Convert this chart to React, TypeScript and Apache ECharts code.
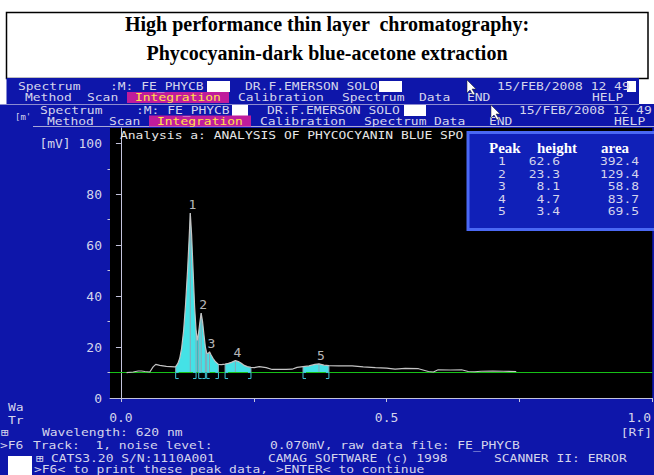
import React, { useEffect, useRef } from 'react';
import * as echarts from 'echarts';

// ---- data ----
const baseline = 10; // mV, integration baseline
const peakIds = ['1', '2', '3', '4', '5'];
const peakHeights = [62.6, 23.3, 8.1, 4.7, 3.4];
const peakAreas = [392.4, 129.4, 58.8, 83.7, 69.5];
const peakRf = [0.1305, 0.151, 0.1667, 0.2154, 0.3727];

const curveRf = [
  0.0106, 0.0231, 0.0325, 0.0387, 0.0449, 0.0543, 0.0605, 0.0655, 0.073, 0.0855,
  0.1011, 0.103, 0.107, 0.1105, 0.1142, 0.118, 0.1217, 0.1255, 0.1283, 0.1305,
  0.133, 0.1358, 0.1386, 0.1414, 0.1436, 0.1464, 0.149, 0.151, 0.1536, 0.1564,
  0.1589, 0.16, 0.1614, 0.1642, 0.1667, 0.1695, 0.1732, 0.1779, 0.1835, 0.1891,
  0.196, 0.2022, 0.2079, 0.2154, 0.221, 0.2266, 0.2322, 0.2378, 0.2447, 0.2509,
  0.2603, 0.2734, 0.2846, 0.2978, 0.3109, 0.322, 0.3315, 0.3427, 0.3539, 0.3652,
  0.3727, 0.382, 0.3914, 0.41, 0.435, 0.456, 0.4788, 0.5, 0.516, 0.535,
  0.56, 0.5787, 0.588, 0.597, 0.62, 0.641, 0.6536, 0.666, 0.678, 0.7,
  0.72, 0.744,
];
const curveMv = [
  10.0, 10.2, 10.6, 10.6, 10.4, 10.2, 12.2, 13.2, 12.8, 12.4,
  12.2, 12.3, 13.5, 15.5, 19.5, 26.5, 37.0, 50.5, 62.5, 72.6,
  64.0, 50.0, 36.0, 26.5, 22.6, 26.0, 30.5, 33.3, 30.0, 24.5,
  20.0, 19.0, 17.6, 17.5, 18.1, 17.0, 15.6, 14.2, 13.2, 13.1,
  13.3, 13.6, 14.0, 14.7, 14.3, 13.6, 12.8, 12.3, 12.0, 11.9,
  12.3, 11.9, 11.2, 11.2, 11.2, 11.3, 12.0, 12.3, 12.6, 13.2,
  13.4, 12.9, 12.7, 12.6, 12.6, 12.2, 11.9, 11.7, 11.3, 11.6,
  11.5, 10.4, 10.2, 11.1, 11.0, 11.1, 10.4, 10.3, 10.5, 10.6,
  10.5, 10.4,
];

const fillStart = [0.103, 0.1436, 0.16, 0.196, 0.3427];
const fillEnd = [0.1436, 0.16, 0.1835, 0.2447, 0.3914];
const bracketRf = [0.103, 0.1414, 0.1464, 0.1589, 0.1614, 0.1835, 0.196, 0.2447, 0.3427, 0.3914];
const bracketSide = [0, 1, 0, 1, 0, 1, 0, 1, 0, 1]; // 0 = "[", 1 = "]"

const yTicks = [0, 20, 40, 60, 80, 100];
const yMinorTicks = [10, 30, 50, 70, 90];
const xTicks = [0, 0.25, 0.5, 0.75, 1.0];
const xLabels = [0, 0.5, 1.0];

// ---- styling ----
const W = 654;
const H = 475;
const MONO = '"DejaVu Sans Mono", monospace';
const SERIF = '"Liberation Serif", "Times New Roman", serif';
const BLUE = '#0e16aa';
const TXT = '#d4d4ec';
const AX = '#c4c4dc';
const CYAN = '#44e2e6';
const X_MIN = -0.0206;

const curve = curveRf.map((r, i) => [r, curveMv[i]]);
const valueAt = (rf: number) => {
  let best = curve[0];
  for (const p of curve) if (Math.abs(p[0] - rf) < Math.abs(best[0] - rf)) best = p;
  return best[1];
};

// screen text: 11px mono stretched horizontally like the DOS font
function T(x: number, y: number, text: string, o: any = {}) {
  const align = o.align || 'left';
  const serif = !!o.font;
  return {
    type: 'text',
    x,
    y,
    scaleX: serif ? 1 : 1.18,
    z: o.z ?? 50,
    silent: true,
    style: {
      text,
      fill: o.fill || TXT,
      font: o.font || `11px ${MONO}`,
      align,
      textAlign: align,
      verticalAlign: 'middle',
      textVerticalAlign: 'middle',
    },
  };
}
function R(x: number, y: number, w: number, h: number, fill: string, z = -10, extra: any = {}) {
  return { type: 'rect', z, silent: true, shape: { x, y, width: w, height: h }, style: { fill, ...extra } };
}
function L(x1: number, y1: number, x2: number, y2: number, stroke: string, z = -5, lw = 1) {
  return { type: 'line', z, silent: true, shape: { x1, y1, x2, y2 }, style: { stroke, lineWidth: lw } };
}
function cursor(x: number, y: number) {
  const pts = [[0, 0], [0, 13], [3, 10], [6, 15], [8, 14], [5, 9], [9, 9]].map(([a, b]) => [x + a, y + b]);
  return { type: 'polygon', z: 60, silent: true, shape: { points: pts }, style: { fill: '#ffffff', stroke: '#202020', lineWidth: 0.5 } };
}

function menuRow(dx: number, y: number) {
  return [
    T(18 + dx, y, 'Spectrum'),
    T(110 + dx + (dx ? 4 : 0), y, ':M: FE_PHYCB'),
    T(245 + dx, y, 'DR.F.EMERSON SOLO'),
    T(497 + dx, y, '15/FEB/2008 12 49'),
  ];
}
function menuRow2(dx: number, y: number, hy: number) {
  return [
    R(127 + dx, hy, 102, 11, '#c01c9c', 5),
    T(25 + dx, y, 'Method'),
    T(87 + dx, y, 'Scan'),
    T(135 + dx, y, 'Integration', { fill: '#ffe24a', font: `11px ${MONO}` , stretch: true }),
    T(238 + dx, y, 'Calibration'),
    T(342 + dx, y, 'Spectrum'),
    T(419 + dx - (dx ? 7 : 0), y, 'Data'),
    T(467 + dx, y, 'END'),
    T(592 + dx, y, 'HELP'),
  ];
}

const graphics: any[] = [
  // title box
  R(6.5, 12.5, 641.5, 66, '#ffffff', -20, { stroke: '#000000', lineWidth: 1.5 }),
  T(327, 24, 'High performance thin layer  chromatography:', { align: 'center', fill: '#000', font: `bold 20px ${SERIF}` }),
  T(327, 53, 'Phycocyanin-dark blue-acetone extraction', { align: 'center', fill: '#000', font: `bold 20px ${SERIF}` }),
  // screen
  R(6.5, 78, 632.5, 26, BLUE, -10),
  R(0, 104, W, H - 104, BLUE, -10),
  R(8, 456, 24, 19, '#ffffff', -9),
  L(0, 104.5, 639, 104.5, '#8c8cd0', -5),
  L(33, 126.5, W, 126.5, '#a8a8d8', -5),
  // menu rows
  ...menuRow(0, 86.5),
  R(207, 81, 23, 11, '#ffffff', 5),
  R(379, 81, 23, 11, '#ffffff', 5),
  R(627, 81, 9, 11, '#ffffff', 5),
  cursor(467, 80),
  ...menuRow2(0, 97.5, 92),
  T(15, 117, "[m'", { font: `9px ${MONO}` }),
  ...menuRow(22, 110),
  R(232, 105, 16, 11, '#ffffff', 5),
  R(404, 105, 22, 11, '#ffffff', 5),
  cursor(491, 105),
  ...menuRow2(22, 121.5, 115.5),
  // plot header
  T(120, 135.5, 'Analysis a: ANALYSIS OF PHYCOCYANIN BLUE SPO', { fill: '#e6e6e6' }),
  // peak table
  R(468, 132.5, 190, 97, '#1020b8', 40, { stroke: '#4a68f4', lineWidth: 3 }),
  T(489, 148, 'Peak', { fill: '#ffffff', font: `bold 15px ${SERIF}`, z: 45 }),
  T(537, 148, 'height', { fill: '#ffffff', font: `bold 15px ${SERIF}`, z: 45 }),
  T(601, 148, 'area', { fill: '#ffffff', font: `bold 15px ${SERIF}`, z: 45 }),
  ...peakIds.flatMap((id, i) => {
    const y = 161.5 + i * 12.5;
    return [
      T(502, y, id, { align: 'center', z: 45 }),
      T(560, y, peakHeights[i].toFixed(1), { align: 'right', z: 45 }),
      T(639, y, peakAreas[i].toFixed(1), { align: 'right', z: 45 }),
    ];
  }),
  // bottom lines
  T(8, 407, 'Wa'),
  T(8, 420, 'Tr'),
  T(652, 432, '[Rf]', { align: 'right' }),
  T(1, 432, '\u229E'),
  T(42, 432, 'Wavelength: 620 nm'),
  T(0, 445, '>F6'),
  T(33, 445, 'Track:  1, noise level:'),
  T(270, 445, '0.070mV, raw data file: FE_PHYCB'),
  T(36, 458, '\u229E'),
  T(51, 458, 'CATS3.20 S/N:1110A001'),
  T(268, 458, 'CAMAG SOFTWARE (c) 1998'),
  T(494, 458, 'SCANNER II: ERROR'),
  T(34, 469, '>F6< to print these peak data, >ENTER< to continue'),
];
// make the yellow menu item use the stretched mono too
graphics.forEach((g) => {
  if (g.type === 'text' && g.style.fill === '#ffe24a') g.scaleX = 1.18;
});

const fillSeries = fillStart.map((s, i) => ({
  type: 'line',
  name: 'peak' + peakIds[i],
  data: curve.filter((p) => p[0] >= s - 1e-9 && p[0] <= fillEnd[i] + 1e-9),
  showSymbol: false,
  silent: true,
  z: 2,
  lineStyle: { width: 0 },
  areaStyle: { color: CYAN, opacity: 1, origin: baseline },
}));

const vlineData = [
  ...bracketRf.map((r) => [r, valueAt(r)]),
  ...peakRf.map((r, i) => [r, baseline + peakHeights[i]]),
];

const option: any = {
  animation: false,
  backgroundColor: '#ffffff',
  graphic: { elements: graphics },
  grid: { left: 110, top: 128, width: 545, height: 270, show: true, backgroundColor: '#000000', borderWidth: 0, containLabel: false },
  xAxis: {
    type: 'value',
    min: X_MIN,
    max: 1.0,
    axisLine: { show: true, lineStyle: { color: AX, width: 1 } },
    axisTick: { show: true, customValues: xTicks, length: 4, lineStyle: { color: AX } },
    axisLabel: {
      customValues: xLabels,
      color: TXT,
      fontFamily: 'DejaVu Sans Mono',
      fontSize: 13,
      margin: 13,
      formatter: (v: number) => (v >= 0.999 ? '{r|' + v.toFixed(1) + '}' : v.toFixed(1)),
      rich: { r: { color: TXT, fontFamily: 'DejaVu Sans Mono', fontSize: 13, padding: [0, 26, 0, 0] } },
    },
    splitLine: { show: false },
  },
  yAxis: [
    {
      type: 'value',
      min: 0,
      max: 106,
      position: 'left',
      axisLine: { show: true, lineStyle: { color: AX, width: 1 } },
      axisTick: { show: true, customValues: yTicks, length: 5, lineStyle: { color: AX } },
      axisLabel: {
        customValues: yTicks,
        color: TXT,
        fontFamily: 'DejaVu Sans Mono',
        fontSize: 13,
        margin: 8,
        formatter: (v: number) => (v === 100 ? '[mV] 100' : String(v)),
      },
      splitLine: { show: false },
    },
    {
      type: 'value',
      min: 0,
      max: 106,
      position: 'left',
      axisLine: { show: false },
      axisTick: { show: true, customValues: yMinorTicks, length: 2.5, lineStyle: { color: AX } },
      axisLabel: { show: false },
      splitLine: { show: false },
    },
  ],
  series: [
    ...fillSeries,
    {
      type: 'custom',
      name: 'slices',
      silent: true,
      z: 3,
      data: vlineData,
      encode: { x: 0, y: 1 },
      renderItem: (params: any, api: any) => {
        const a = api.coord([api.value(0), baseline]);
        const b = api.coord([api.value(0), api.value(1)]);
        return { type: 'line', shape: { x1: a[0], y1: a[1], x2: b[0], y2: b[1] }, style: { stroke: '#8aa6b4', lineWidth: 1 } };
      },
    },
    {
      type: 'line',
      name: 'baseline',
      data: [[X_MIN, baseline], [1.0, baseline]],
      showSymbol: false,
      silent: true,
      z: 3,
      lineStyle: { color: '#18c418', width: 1 },
    },
    {
      type: 'line',
      name: 'signal',
      data: curve,
      showSymbol: false,
      silent: true,
      z: 4,
      lineStyle: { color: '#c4c4c4', width: 1.2 },
    },
    {
      type: 'custom',
      name: 'brackets',
      silent: true,
      z: 4,
      data: bracketRf.map((r, i) => [r, baseline, bracketSide[i]]),
      encode: { x: 0, y: 1 },
      renderItem: (params: any, api: any) => {
        const p = api.coord([api.value(0), api.value(1)]);
        const d = api.value(2) === 0 ? 1 : -1;
        return {
          type: 'polyline',
          shape: { points: [[p[0] + 3 * d, p[1]], [p[0], p[1]], [p[0], p[1] + 6], [p[0] + 3 * d, p[1] + 6]] },
          style: { stroke: '#3ec4d8', fill: null, lineWidth: 1 },
        };
      },
    },
    {
      type: 'scatter',
      name: 'labels',
      silent: true,
      z: 5,
      symbolSize: 0,
      data: peakRf.map((r, i) => [r, baseline + peakHeights[i]]),
      label: {
        show: true,
        position: 'top',
        distance: 2,
        offset: [2, 0],
        color: '#e8e8e8',
        fontFamily: 'DejaVu Sans Mono',
        fontSize: 13,
        formatter: (p: any) => peakIds[p.dataIndex],
      },
    },
  ],
};

export default function App() {
  const ref = useRef<HTMLDivElement>(null);
  useEffect(() => {
    const chart = echarts.init(ref.current!, null, { renderer: 'svg', width: W, height: H });
    chart.setOption(option);
    return () => chart.dispose();
  }, []);
  return <div ref={ref} style={{ position: 'fixed', left: 0, top: 0, width: W, height: H }} />;
}
